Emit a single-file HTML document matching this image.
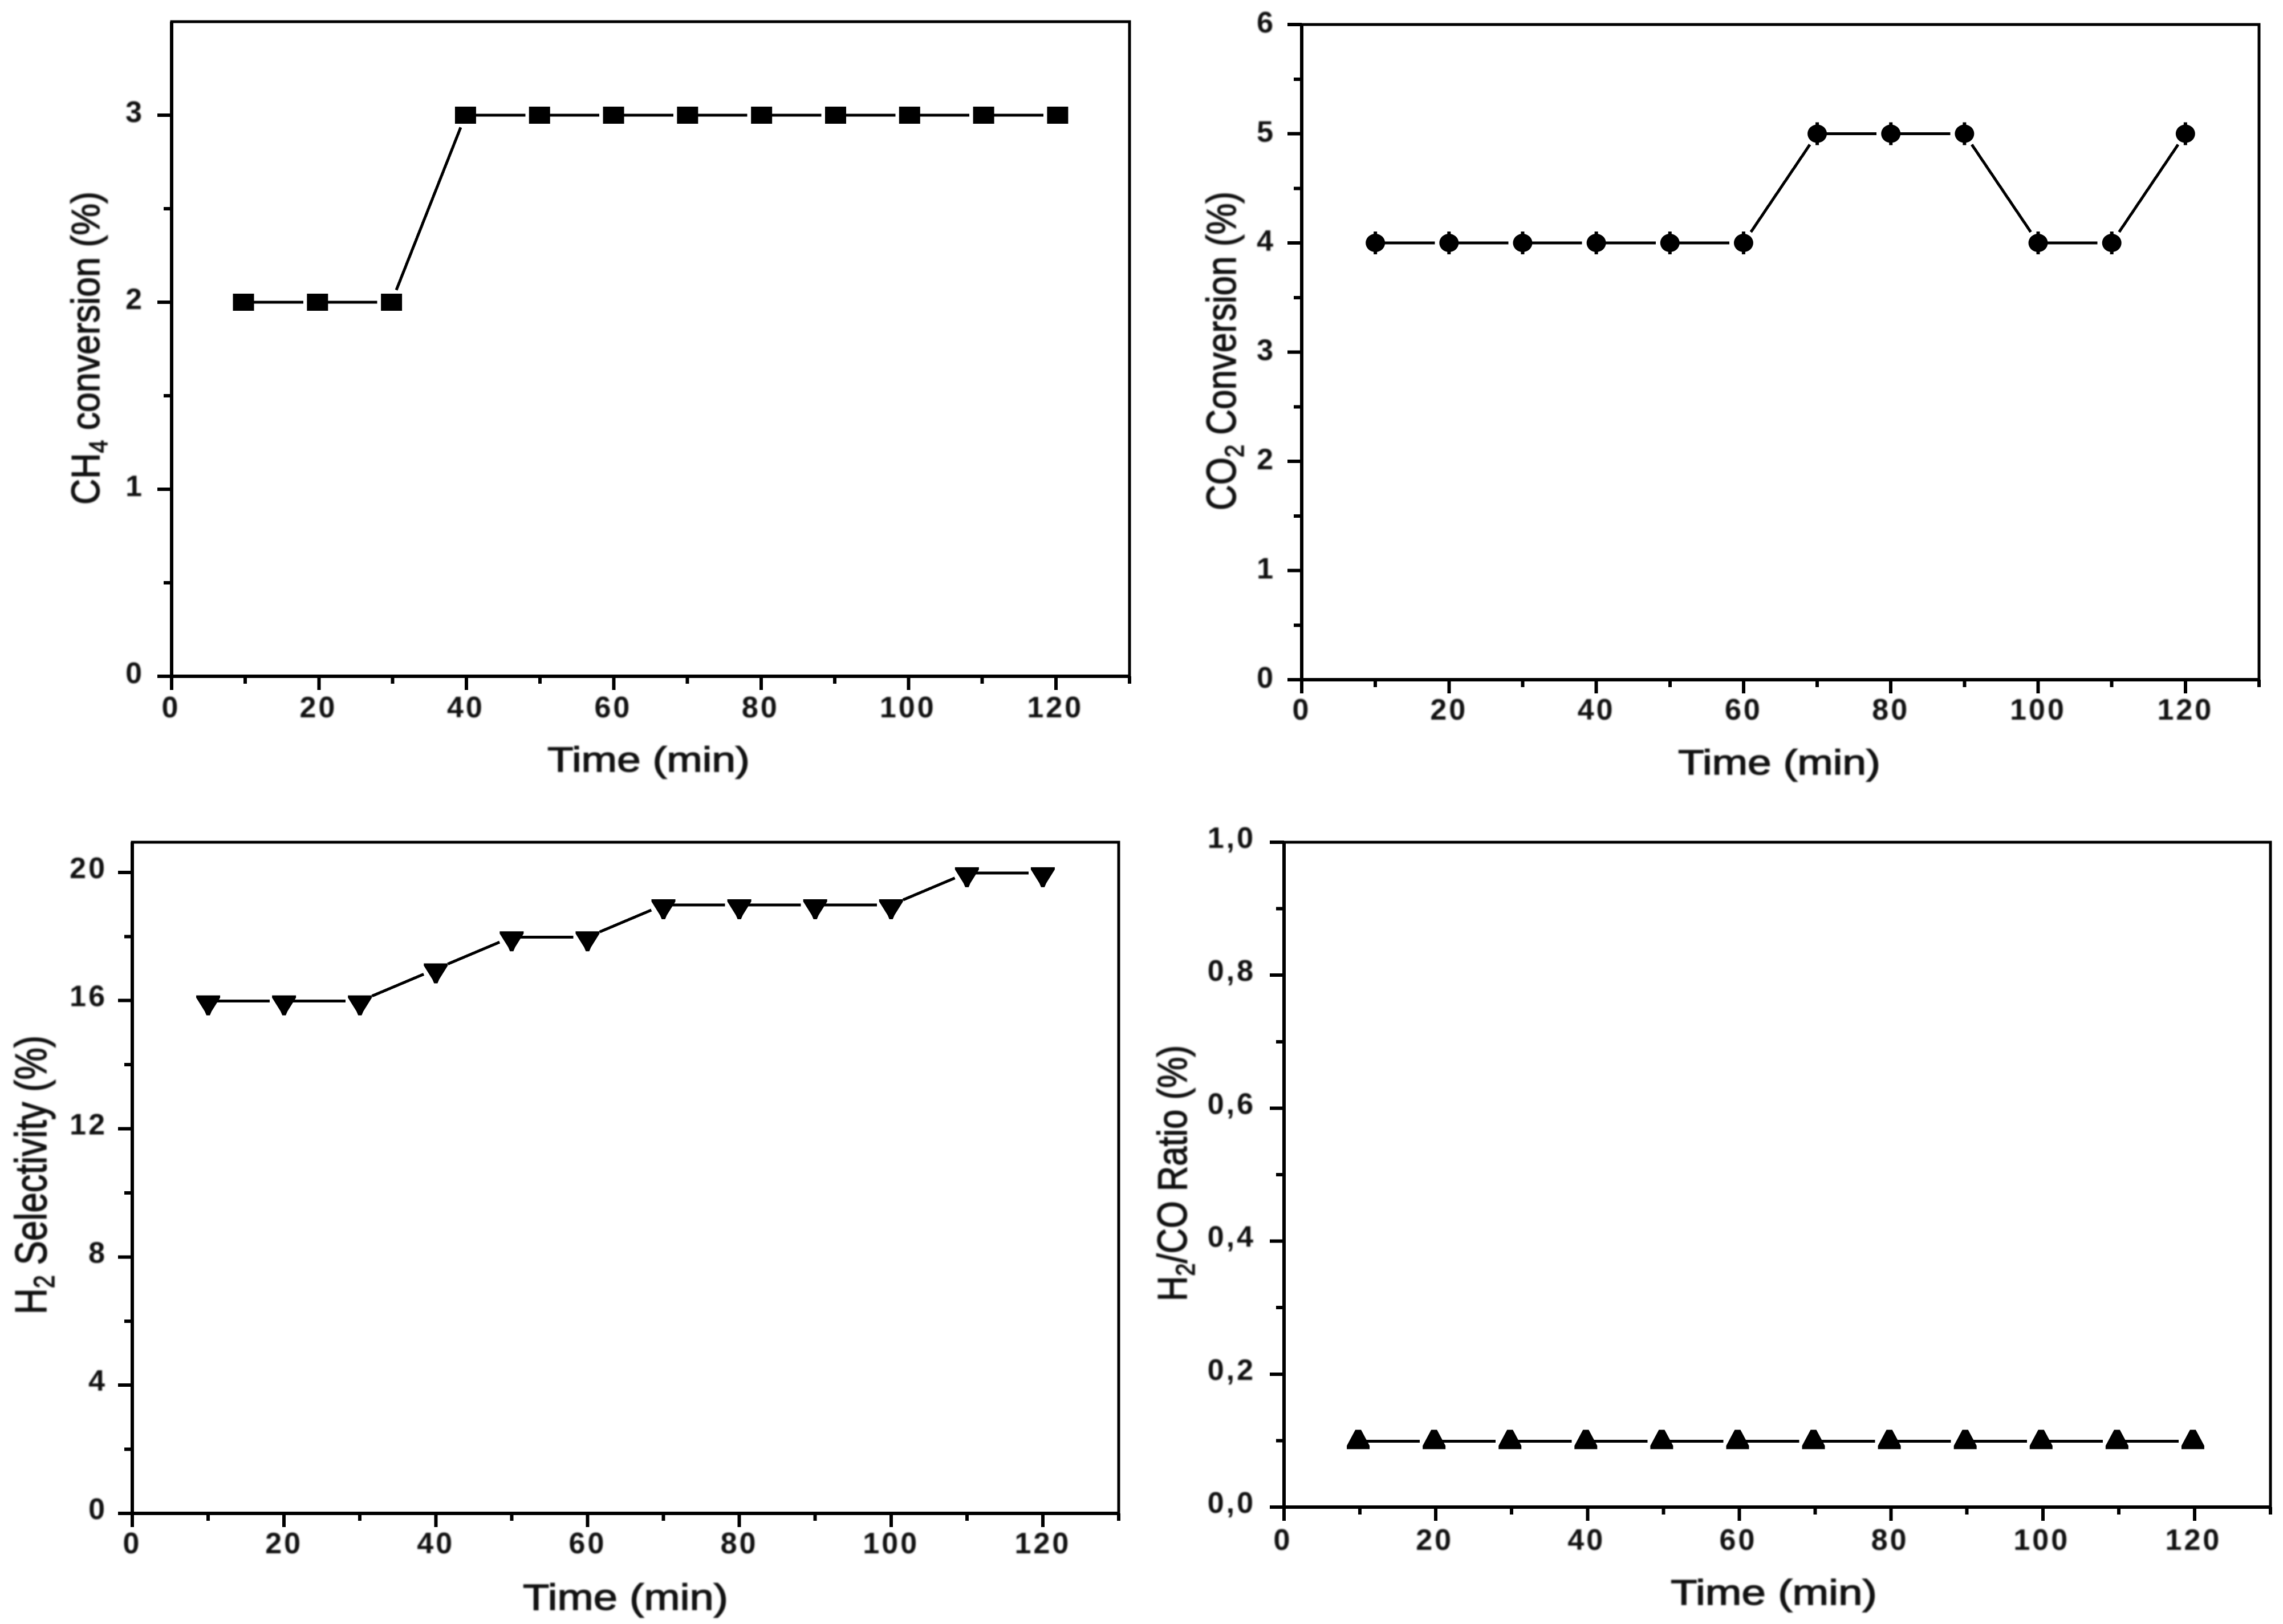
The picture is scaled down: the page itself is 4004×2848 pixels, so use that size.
<!DOCTYPE html>
<html lang="en">
<head>
<meta charset="utf-8">
<title>Conversion, selectivity and ratio over time</title>
<style>
html,body{margin:0;padding:0;background:#fff;width:4004px;height:2848px;overflow:hidden}
svg{display:block}
line{shape-rendering:crispEdges}
text{font-family:"Liberation Sans",Arial,sans-serif;fill:#111}
.tick{font-size:52px;font-weight:bold;letter-spacing:4px;filter:blur(1.2px)}
.title{stroke:#111;stroke-width:1.4px;filter:blur(1.2px)}
</style>
</head>
<body>
<svg id="figure" xmlns="http://www.w3.org/2000/svg" width="4004" height="2848" viewBox="0 0 4004 2848">
<rect width="4004" height="2848" fill="#fff"/>
</svg>
<script>
const timeMinutes = [10, 20, 30, 40, 50, 60, 70, 80, 90, 100, 110, 120];
const ch4Conversion = [2, 2, 2, 3, 3, 3, 3, 3, 3, 3, 3, 3];
const co2Conversion = [4, 4, 4, 4, 4, 4, 5, 5, 5, 4, 4, 5];
const h2Selectivity = [16, 16, 16, 17, 18, 18, 19, 19, 19, 19, 20, 20];
const h2CoRatio = [0.1, 0.1, 0.1, 0.1, 0.1, 0.1, 0.1, 0.1, 0.1, 0.1, 0.1, 0.1];

const xTickValues = [0, 20, 40, 60, 80, 100, 120];
const xTickLabels = ["0", "20", "40", "60", "80", "100", "120"];
const xMinorTicks = [10, 30, 50, 70, 90, 110, 130];

const ch4TickValues = [0, 1, 2, 3];
const ch4TickLabels = ["0", "1", "2", "3"];
const ch4MinorTicks = [0.5, 1.5, 2.5];
const co2TickValues = [0, 1, 2, 3, 4, 5, 6];
const co2TickLabels = ["0", "1", "2", "3", "4", "5", "6"];
const co2MinorTicks = [0.5, 1.5, 2.5, 3.5, 4.5, 5.5];
const selTickValues = [0, 4, 8, 12, 16, 20];
const selTickLabels = ["0", "4", "8", "12", "16", "20"];
const selMinorTicks = [2, 6, 10, 14, 18];
const ratioTickValues = [0, 0.2, 0.4, 0.6, 0.8, 1];
const ratioTickLabels = ["0,0", "0,2", "0,4", "0,6", "0,8", "1,0"];
const ratioMinorTicks = [0.1, 0.3, 0.5, 0.7, 0.9];

const NS = "http://www.w3.org/2000/svg";
const figure = document.getElementById("figure");

function mk(parent, tag, attrs, name) {
  const el = document.createElementNS(NS, tag);
  for (const k in attrs) el.setAttribute(k, attrs[k]);
  
  
  parent.appendChild(el);
  return el;
}

function marker(g, shape, cx, cy) {
  const pts = a => a.map(q => (cx + q[0]) + "," + (cy + q[1])).join(" ");
  if (shape === "square") {
    mk(g, "rect", {x: cx - 18.5, y: cy - 15, width: 37, height: 30, fill: "#000"}, "data-point-square");
  } else if (shape === "circle") {
    const m = mk(g, "g", {}, "data-point-circle");
    mk(m, "ellipse", {cx: cx, cy: cy, rx: 17, ry: 16, fill: "#000"}, "circle-body");
    mk(m, "rect", {x: cx - 3, y: cy - 20, width: 6, height: 40, fill: "#000"}, "circle-vertical-nub");
  } else if (shape === "down") {
    mk(g, "polygon", {points: pts([[-21, -10], [21, -10], [21, -6], [6, 18], [3, 25], [-3, 25], [-6, 18], [-21, -6]]), fill: "#000"}, "data-point-triangle-down");
  } else {
    mk(g, "polygon", {points: pts([[-20, 14], [20, 14], [20, 8], [5, -20], [-5, -20], [-20, 8]]), fill: "#000"}, "data-point-triangle-up");
  }
}

function drawPanel(p) {
  const g = mk(figure, "g", {}, p.name);
  const sx = v => p.x0 + (v / 130) * (p.x1 - p.x0);
  const sy = v => p.y0 - (v / p.yMax) * (p.y0 - p.y1);

  mk(g, "rect", {x: p.x0, y: p.y1, width: p.x1 - p.x0, height: p.y0 - p.y1, fill: "none", stroke: "#000", "stroke-width": 5}, "plot-frame");
  mk(g, "line", {x1: p.x0, x2: p.x0, y1: p.y1, y2: p.y0, stroke: "#000", "stroke-width": 6}, "y-axis-line");
  mk(g, "line", {x1: p.x0, x2: p.x1, y1: p.y0, y2: p.y0, stroke: "#000", "stroke-width": 6}, "x-axis-line");

  p.yTicks.forEach((v, i) => {
    const y = sy(v);
    mk(g, "line", {x1: p.x0 - 25, x2: p.x0, y1: y, y2: y, stroke: "#000", "stroke-width": 6}, "y-major-tick");
    const t = mk(g, "text", {x: p.x0 - p.yLabelGap, y: y + p.yLabelDy, "text-anchor": "end", class: "tick"}, "y-tick-label");
    t.textContent = p.yLabels[i];
  });
  p.yMinor.forEach(v => {
    const y = sy(v);
    mk(g, "line", {x1: p.x0 - 14, x2: p.x0, y1: y, y2: y, stroke: "#000", "stroke-width": 6}, "y-minor-tick");
  });
  xTickValues.forEach((v, i) => {
    const x = sx(v);
    mk(g, "line", {x1: x, x2: x, y1: p.y0, y2: p.y0 + 24, stroke: "#000", "stroke-width": 6}, "x-major-tick");
    const t = mk(g, "text", {x: x + p.xLabelDx, y: p.xLabelY, "text-anchor": "middle", class: "tick"}, "x-tick-label");
    t.textContent = xTickLabels[i];
  });
  xMinorTicks.forEach(v => {
    const x = sx(v);
    mk(g, "line", {x1: x, x2: x, y1: p.y0, y2: p.y0 + 13, stroke: "#000", "stroke-width": 6}, "x-minor-tick");
  });

  const xt = mk(g, "text", {x: p.xTitle[0], y: p.xTitle[1], class: "title", "font-size": p.xTitleSize, textLength: p.xTitle[2], lengthAdjust: "spacingAndGlyphs"}, "x-axis-title");
  xt.textContent = "Time (min)";

  const yt = mk(g, "text", {x: 0, y: 0, class: "title", "font-size": p.yTitleSize, textLength: p.yTitle[2] - p.yTitle[1], lengthAdjust: "spacingAndGlyphs", transform: "translate(" + p.yTitle[0] + " " + p.yTitle[2] + ") rotate(-90)"}, "y-axis-title");
  p.yTitleParts.forEach(part => {
    const s = mk(yt, "tspan", part[1] ? {dy: 14, "font-size": p.yTitleSize * 0.65} : {dy: part[2] ? -14 : 0}, "y-title-part");
    s.textContent = part[0];
  });

  const dataX = v => sx(v) + p.dataShiftX + v * p.dataStretchX;
  const dataY = v => sy(v) + p.dataShiftY;
  for (let i = 0; i < p.values.length - 1; i++) {
    const ax = dataX(timeMinutes[i]), ay = dataY(p.values[i]);
    const bx = dataX(timeMinutes[i + 1]), by = dataY(p.values[i + 1]);
    const len = Math.hypot(bx - ax, by - ay);
    const ux = (bx - ax) / len, uy = (by - ay) / len;
    const startGap = ay === by ? 0 : 23;
    const endGap = ay === by ? 25 : 23;
    mk(g, "line", {x1: ax + ux * startGap, y1: ay + uy * startGap, x2: bx - ux * endGap, y2: by - uy * endGap, stroke: "#000", "stroke-width": 5}, "series-line-segment");
  }
  p.values.forEach((v, i) => {
    marker(g, p.shape, dataX(timeMinutes[i]), dataY(v));
  });
}

drawPanel({
  name: "ch4-conversion-panel", x0: 301, x1: 1981, y0: 1186, y1: 38, yMax: 3.5,
  values: ch4Conversion, shape: "square", dataShiftX: -3.8, dataShiftY: 0, dataStretchX: 0.058,
  yTicks: ch4TickValues, yLabels: ch4TickLabels, yMinor: ch4MinorTicks,
  yLabelGap: 48, yLabelDy: 12, xLabelY: 1258, xLabelDx: -1,
  xTitle: [960, 1353, 355], xTitleSize: 61, yTitle: [174, 336, 885], yTitleSize: 70,
  yTitleParts: [["CH", false, false], ["4", true, false], [" conversion (%)", false, true]]
});
drawPanel({
  name: "co2-conversion-panel", x0: 2283, x1: 3962, y0: 1192, y1: 43, yMax: 6,
  values: co2Conversion, shape: "circle", dataShiftX: 0, dataShiftY: 0, dataStretchX: 0,
  yTicks: co2TickValues, yLabels: co2TickLabels, yMinor: co2MinorTicks,
  yLabelGap: 46, yLabelDy: 14, xLabelY: 1262, xLabelDx: 0,
  xTitle: [2943, 1358, 355], xTitleSize: 61, yTitle: [2167, 336, 895], yTitleSize: 72,
  yTitleParts: [["CO", false, false], ["2", true, false], [" Conversion (%)", false, true]]
});
drawPanel({
  name: "h2-selectivity-panel", x0: 232, x1: 1962, y0: 2654, y1: 1477, yMax: 20.94,
  values: h2Selectivity, shape: "down", dataShiftX: 0, dataShiftY: 1, dataStretchX: 0,
  yTicks: selTickValues, yLabels: selTickLabels, yMinor: selMinorTicks,
  yLabelGap: 44, yLabelDy: 10, xLabelY: 2724, xLabelDx: 0,
  xTitle: [917, 2823, 360], xTitleSize: 64, yTitle: [81, 1816, 2305], yTitleSize: 78,
  yTitleParts: [["H", false, false], ["2", true, false], [" Selectivity (%)", false, true]]
});
drawPanel({
  name: "h2-co-ratio-panel", x0: 2252, x1: 3982, y0: 2643, y1: 1477, yMax: 1,
  values: h2CoRatio, shape: "up", dataShiftX: -3, dataShiftY: 1, dataStretchX: 0,
  yTicks: ratioTickValues, yLabels: ratioTickLabels, yMinor: ratioMinorTicks,
  yLabelGap: 50, yLabelDy: 10, xLabelY: 2718, xLabelDx: -2,
  xTitle: [2930, 2814, 362], xTitleSize: 62, yTitle: [2081, 1833, 2282], yTitleSize: 72,
  yTitleParts: [["H", false, false], ["2", true, false], ["/CO Ratio (%)", false, true]]
});
</script>
</body>
</html>
